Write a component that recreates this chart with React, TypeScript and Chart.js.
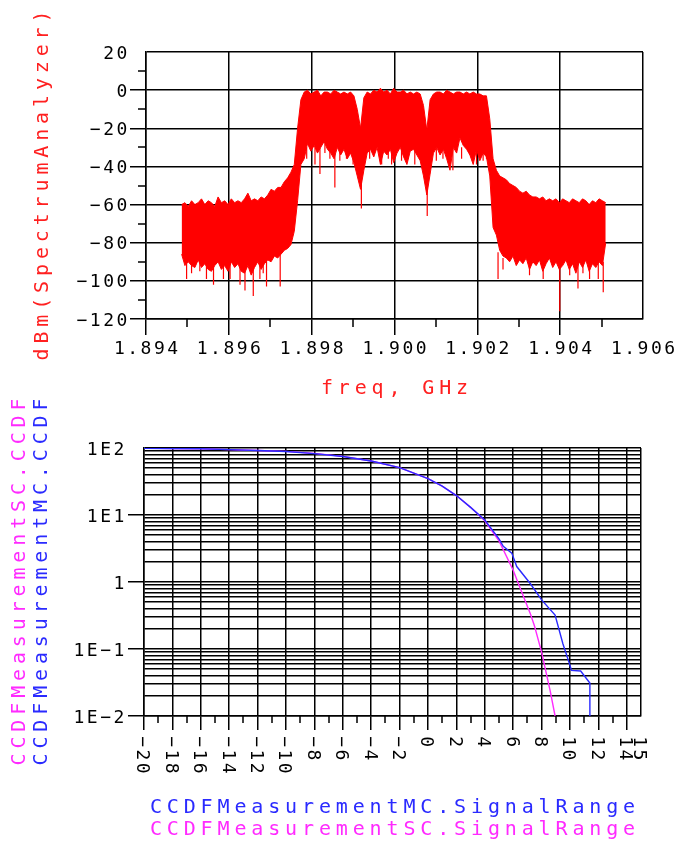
import React, { useEffect, useRef } from "react";
import { Chart, registerables } from "chart.js";

Chart.register(...registerables);

// ---------------- Spectrum (top chart) data ----------------
const FREQ_START = 1.89486; // GHz, first sample
const FREQ_STEP = 0.00008; // GHz between samples

// upper envelope of the spectrum trace, dBm
const SPEC_UPPER = [
  -60, -59, -61, -58, -60, -59, -57, -60, -58, -59,
  -61, -56, -59, -58, -60, -57, -59, -58, -59, -57,
  -54, -58, -57, -58, -56, -57, -55, -52, -53, -51,
  -51, -48, -46, -43, -39, -20, -5, -1, 0, -2,
  -1, 0, -3, -1, -1, -2, 0, -1, -2, -1,
  -2, -1, -3, -10, -20, -4, -1, -2, 0, -1,
  1, -1, 0, -2, 1, -1, -1, 0, -2, -1,
  -2, -1, -2, -8, -21, -5, -2, -1, -1, -2,
  0, -1, -2, -1, -1, -2, -1, -2, -1, -2,
  -2, -3, -3, -15, -36, -42, -45, -46, -47, -49,
  -50, -51, -53, -54, -53, -55, -56, -56, -57, -56,
  -58, -57, -58, -57, -59, -57, -58, -59, -57, -58,
  -59, -57, -58, -60, -58, -59, -57, -58, -59,
];

// lower envelope of the spectrum trace, dBm
const SPEC_LOWER = [
  -86, -92, -90, -92, -93, -89, -93, -91, -94, -95,
  -92, -90, -94, -92, -95, -90, -93, -91, -95, -96,
  -92, -97, -93, -90, -94, -91, -89, -90, -87, -88,
  -86, -84, -83, -81, -74, -58, -39, -36, -28, -32,
  -29, -33, -30, -27, -31, -33, -36, -30, -34, -31,
  -36, -33, -38, -45, -52, -42, -33, -31, -35, -30,
  -39, -32, -34, -31, -38, -33, -30, -35, -39, -32,
  -31, -34, -37, -45, -55, -44, -33, -30, -34, -31,
  -36, -42, -30, -33, -25, -29, -31, -34, -39, -31,
  -37, -33, -35, -45, -72, -76, -84, -87, -88, -90,
  -87, -92, -89, -91, -88, -94, -90, -92, -89, -95,
  -91, -88, -93, -90, -94, -92, -89, -94, -91, -96,
  -90, -93, -89, -95, -91, -93, -90, -92, -80,
];

// isolated thin spikes of the trace (start level -> tip level)
const SPIKE_FREQ = [
  1.89498, 1.8951, 1.8953, 1.89546, 1.89563, 1.89587, 1.89603, 1.89627, 1.89639, 1.89659,
  1.89675, 1.89683, 1.89691, 1.89724, 1.89788, 1.89808, 1.8982, 1.89832, 1.89844, 1.89856,
  1.89868, 1.89884, 1.899, 1.8992, 1.8994, 1.89969, 1.89985, 1.89993, 1.90017, 1.90033,
  1.90049, 1.90061, 1.90079, 1.90101, 1.90117, 1.90141, 1.90162, 1.90182, 1.90198, 1.90214,
  1.90222, 1.9025, 1.90262, 1.90326, 1.90359, 1.90399, 1.90423, 1.90443, 1.90455, 1.90471,
  1.90492, 1.90504,
];
const SPIKE_FROM = [
  -88, -88, -88, -90, -90, -90, -90, -90, -90, -92,
  -90, -90, -88, -85, -30, -30, -30, -28, -30, -33,
  -30, -30, -32, -45, -30, -30, -30, -30, -30, -30,
  -30, -30, -48, -30, -30, -30, -30, -28, -30, -30,
  -30, -85, -88, -88, -88, -88, -90, -90, -90, -90,
  -90, -90,
];
const SPIKE_TO = [
  -99, -96, -95, -99, -102, -99, -99, -102, -105, -108,
  -99, -96, -103, -103, -36, -39, -44, -33, -36, -51,
  -37, -36, -39, -62, -36, -39, -36, -39, -37, -36,
  -39, -34, -66, -37, -36, -42, -36, -34, -39, -37,
  -36, -99, -94, -97, -99, -116, -97, -104, -96, -99,
  -99, -106,
];

const FREQ_TICKS = [1.894, 1.896, 1.898, 1.9, 1.902, 1.904, 1.906];
const FREQ_TICK_LABELS = ["1.894", "1.896", "1.898", "1.900", "1.902", "1.904", "1.906"];
const FREQ_MINOR = [1.895, 1.897, 1.899, 1.901, 1.903, 1.905];
const DBM_TICKS = [-120, -100, -80, -60, -40, -20, 0, 20];
const DBM_TICK_LABELS = ["\u2212120", "\u2212100", "\u221280", "\u221260", "\u221240", "\u221220", "0", "20"];
const DBM_MINOR = [-110, -90, -70, -50, -30, -10, 10];

// ---------------- CCDF (bottom chart) data ----------------
const SC_RANGE = [-20, -18, -16, -14, -12, -10, -8, -6, -4, -2, 0, 1, 2, 3, 4, 5, 6, 6.5, 7.2, 7.5, 8, 8.6, 8.95];
const SC_CCDF = [100, 98.5, 97, 94.5, 92, 89, 83, 75, 64, 51, 35, 27, 19.5, 13, 8.2, 4.1, 1.5, 0.8, 0.34, 0.22, 0.09, 0.024, 0.01];

const MC_RANGE = [-20, -18.5, -16, -14, -12, -10, -8, -6, -4, -2, 0, 1, 2, 3, 4, 5, 5.3, 5.9, 6.25, 7.2, 8.0, 8.95, 9.5, 10.0, 10.1, 10.75, 11.4, 11.4];
const MC_CCDF = [99, 98.5, 97.5, 94.5, 92, 88.5, 82.5, 74.5, 64, 51, 35, 27, 19.5, 13, 8.4, 4.4, 3.4, 2.7, 1.7, 0.95, 0.54, 0.32, 0.12, 0.057, 0.048, 0.047, 0.031, 0.01];

const RANGE_TICKS = [-20, -18, -16, -14, -12, -10, -8, -6, -4, -2, 0, 2, 4, 6, 8, 10, 12, 14, 15];
const RANGE_TICK_LABELS = ["\u221220", "\u221218", "\u221216", "\u221214", "\u221212", "\u221210", "\u22128", "\u22126", "\u22124", "\u22122", "0", "2", "4", "6", "8", "10", "12", "14", "15"];
const RANGE_MINOR = [-19, -17, -15, -13, -11, -9, -7, -5, -3, -1, 1, 3, 5, 7, 9, 11, 13];
const CCDF_DECADES = [0.01, 0.1, 1, 10, 100];
const CCDF_DECADE_LABELS = ["1E\u22122", "1E\u22121", "1", "1E1", "1E2"];
const CCDF_SUBDIV = [1, 2, 3, 4, 5, 6, 7, 8, 9];

// ---------------- styling ----------------
const RED = "#ff0000";
const TITLE_RED = "#ff2020";
const BLUE = "#2a2aff";
const MAGENTA = "#ff2aff";
const GRID = "#000000";
const GRID_W = 1.5;
const MONO = '"DejaVu Sans Mono", "Liberation Mono", monospace';
const CAP = 0.729;
const TICK_PX = 18;
const TICK_CELL = 13.3;
const TITLE_PX = 20;
const TITLE_CELL = 16.9;

function drawMono(
  ctx: CanvasRenderingContext2D,
  text: string,
  x: number,
  y: number,
  size: number,
  cell: number,
  color: string,
  align: "left" | "center" | "right",
  rot: number
) {
  const chars = Array.from(text);
  const total = chars.length * cell;
  const start = align === "center" ? -total / 2 : align === "right" ? -total : 0;
  ctx.save();
  ctx.translate(x, y);
  if (rot) ctx.rotate((rot * Math.PI) / 180);
  ctx.font = `${size}px ${MONO}`;
  ctx.fillStyle = color;
  ctx.textAlign = "center";
  ctx.textBaseline = "alphabetic";
  const base = (size * CAP) / 2;
  chars.forEach((ch, k) => ctx.fillText(ch, start + (k + 0.5) * cell, base));
  ctx.restore();
}

const isSame = (a: number, b: number) => Math.abs(a - b) < 1e-9;
const isDecade = (v: number) => {
  const l = Math.log10(v);
  return Math.abs(l - Math.round(l)) < 1e-6;
};

export default function App() {
  const topRef = useRef<HTMLCanvasElement | null>(null);
  const botRef = useRef<HTMLCanvasElement | null>(null);

  useEffect(() => {
    if (!topRef.current || !botRef.current) return;

    // ---------- top chart ----------
    const upperPts = SPEC_UPPER.map((v, i) => ({ x: FREQ_START + FREQ_STEP * i, y: v }));
    const lowerPts = SPEC_LOWER.map((v, i) => ({ x: FREQ_START + FREQ_STEP * i, y: v }));
    const spikePts: { x: number; y: number | null }[] = [];
    SPIKE_FREQ.forEach((f, k) => {
      spikePts.push({ x: f, y: SPIKE_FROM[k] }, { x: f, y: SPIKE_TO[k] }, { x: f, y: null });
    });

    const topPlugin = {
      id: "topDecor",
      afterDraw(chart: any) {
        const ctx: CanvasRenderingContext2D = chart.ctx;
        const xs = chart.scales.x;
        const ys = chart.scales.y;
        const ca = chart.chartArea;
        ctx.save();
        ctx.strokeStyle = GRID;
        ctx.lineWidth = GRID_W;
        ctx.beginPath();
        FREQ_MINOR.forEach((v) => {
          const px = Math.round(xs.getPixelForValue(v));
          ctx.moveTo(px, ca.bottom);
          ctx.lineTo(px, ca.bottom + 8);
        });
        DBM_MINOR.forEach((v) => {
          const py = Math.round(ys.getPixelForValue(v));
          ctx.moveTo(ca.left, py);
          ctx.lineTo(ca.left - 8, py);
        });
        ctx.stroke();
        ctx.restore();

        FREQ_TICKS.forEach((v, k) =>
          drawMono(ctx, FREQ_TICK_LABELS[k], xs.getPixelForValue(v), 347, TICK_PX, TICK_CELL, "#000", "center", 0)
        );
        DBM_TICKS.forEach((v, k) =>
          drawMono(ctx, DBM_TICK_LABELS[k], 128.5, ys.getPixelForValue(v), TICK_PX, TICK_CELL, "#000", "right", 0)
        );
        drawMono(ctx, "freq, GHz", (ca.left + ca.right) / 2, 386.7, TITLE_PX, TITLE_CELL, TITLE_RED, "center", 0);
        drawMono(ctx, "dBm(SpectrumAnalyzer)", 41, (ca.top + ca.bottom) / 2, TITLE_PX, TITLE_CELL, TITLE_RED, "center", -90);
      },
    };

    const topChart = new Chart(topRef.current, {
      type: "line",
      data: {
        datasets: [
          { data: upperPts, borderColor: RED, borderWidth: 1, pointRadius: 0, fill: false, tension: 0 },
          { data: lowerPts, borderColor: RED, borderWidth: 1, pointRadius: 0, fill: "-1", backgroundColor: RED, tension: 0 },
          { data: spikePts as any, borderColor: RED, borderWidth: 1.2, pointRadius: 0, fill: false, tension: 0 },
        ],
      },
      options: {
        animation: false,
        responsive: false,
        maintainAspectRatio: false,
        events: [],
        layout: { padding: { top: 52, right: 34, left: 0, bottom: 0 } },
        plugins: { legend: { display: false }, tooltip: { enabled: false }, title: { display: false } },
        scales: {
          x: {
            type: "linear",
            min: 1.894,
            max: 1.906,
            afterBuildTicks: (s: any) => {
              s.ticks = FREQ_TICKS.map((v) => ({ value: v }));
            },
            afterFit: (s: any) => {
              s.height = 81;
            },
            ticks: { display: false },
            grid: {
              color: GRID,
              lineWidth: GRID_W,
              tickLength: 16,
              tickWidth: GRID_W,
              tickColor: (c: any) => (c.tick && isSame(c.tick.value, 1.906) ? "rgba(0,0,0,0)" : GRID),
            },
            border: { color: GRID, width: GRID_W },
          },
          y: {
            type: "linear",
            min: -120,
            max: 20,
            afterBuildTicks: (s: any) => {
              s.ticks = DBM_TICKS.map((v) => ({ value: v }));
            },
            afterFit: (s: any) => {
              s.width = 146;
            },
            ticks: { display: false },
            grid: {
              color: GRID,
              lineWidth: GRID_W,
              tickLength: 16,
              tickWidth: GRID_W,
              tickColor: (c: any) => (c.tick && isSame(c.tick.value, 20) ? "rgba(0,0,0,0)" : GRID),
            },
            border: { color: GRID, width: GRID_W },
          },
        },
      } as any,
      plugins: [topPlugin],
    });

    // ---------- bottom chart ----------
    const scPts = SC_RANGE.map((v, i) => ({ x: v, y: SC_CCDF[i] }));
    const mcPts = MC_RANGE.map((v, i) => ({ x: v, y: MC_CCDF[i] }));
    const logTicks: number[] = [];
    CCDF_DECADES.forEach((d, k) => {
      if (k === CCDF_DECADES.length - 1) {
        logTicks.push(d);
      } else {
        CCDF_SUBDIV.forEach((m) => logTicks.push(+(d * m).toPrecision(6)));
      }
    });

    const botPlugin = {
      id: "botDecor",
      afterDraw(chart: any) {
        const ctx: CanvasRenderingContext2D = chart.ctx;
        const xs = chart.scales.x;
        const ys = chart.scales.y;
        const ca = chart.chartArea;
        ctx.save();
        ctx.strokeStyle = GRID;
        ctx.lineWidth = GRID_W;
        ctx.beginPath();
        RANGE_MINOR.forEach((v) => {
          const px = Math.round(xs.getPixelForValue(v));
          ctx.moveTo(px, ca.bottom);
          ctx.lineTo(px, ca.bottom + 7);
        });
        ctx.stroke();
        ctx.restore();

        RANGE_TICKS.forEach((v, k) =>
          drawMono(ctx, RANGE_TICK_LABELS[k], xs.getPixelForValue(v), ca.bottom + 19, TICK_PX, TICK_CELL, "#000", "left", 90)
        );
        CCDF_DECADES.forEach((v, k) =>
          drawMono(ctx, CCDF_DECADE_LABELS[k], 125.5, ys.getPixelForValue(v), TICK_PX, TICK_CELL, "#000", "right", 0)
        );
        const cx = (ca.left + ca.right) / 2;
        const cy = (ca.top + ca.bottom) / 2;
        drawMono(ctx, "CCDFMeasurementMC.SignalRange", cx, 405.8, TITLE_PX, TITLE_CELL, BLUE, "center", 0);
        drawMono(ctx, "CCDFMeasurementSC.SignalRange", cx, 427.6, TITLE_PX, TITLE_CELL, MAGENTA, "center", 0);
        drawMono(ctx, "CCDFMeasurementSC.CCDF", 17.5, cy, TITLE_PX, TITLE_CELL, MAGENTA, "center", -90);
        drawMono(ctx, "CCDFMeasurementMC.CCDF", 40, cy, TITLE_PX, TITLE_CELL, BLUE, "center", -90);
      },
    };

    const botChart = new Chart(botRef.current, {
      type: "line",
      data: {
        datasets: [
          { data: mcPts, borderColor: BLUE, borderWidth: 1.4, pointRadius: 0, fill: false, tension: 0 },
          { data: scPts, borderColor: MAGENTA, borderWidth: 1.4, pointRadius: 0, fill: false, tension: 0 },
        ],
      },
      options: {
        animation: false,
        responsive: false,
        maintainAspectRatio: false,
        events: [],
        layout: { padding: { top: 48, right: 36, left: 0, bottom: 0 } },
        plugins: { legend: { display: false }, tooltip: { enabled: false }, title: { display: false } },
        scales: {
          x: {
            type: "linear",
            min: -20,
            max: 15,
            afterBuildTicks: (s: any) => {
              s.ticks = RANGE_TICKS.map((v) => ({ value: v }));
            },
            afterFit: (s: any) => {
              s.height = 125;
            },
            ticks: { display: false },
            grid: {
              color: GRID,
              lineWidth: GRID_W,
              tickLength: 14,
              tickWidth: GRID_W,
              tickColor: (c: any) => (c.tick && isSame(c.tick.value, 15) ? "rgba(0,0,0,0)" : GRID),
            },
            border: { color: GRID, width: GRID_W },
          },
          y: {
            type: "logarithmic",
            min: 0.01,
            max: 100,
            afterBuildTicks: (s: any) => {
              s.ticks = logTicks.map((v) => ({ value: v }));
            },
            afterFit: (s: any) => {
              s.width = 144;
            },
            ticks: { display: false },
            grid: {
              color: GRID,
              lineWidth: GRID_W,
              tickLength: 16,
              tickWidth: GRID_W,
              tickColor: (c: any) =>
                c.tick && isDecade(c.tick.value) && !isSame(c.tick.value, 100) ? GRID : "rgba(0,0,0,0)",
            },
            border: { color: GRID, width: GRID_W },
          },
        },
      } as any,
      plugins: [botPlugin],
    });

    return () => {
      topChart.destroy();
      botChart.destroy();
    };
  }, []);

  return (
    <div style={{ position: "absolute", left: 0, top: 0, width: 677, height: 841, background: "#fff" }}>
      <canvas ref={topRef} width={677} height={400} style={{ position: "absolute", left: 0, top: 0 }} />
      <canvas ref={botRef} width={677} height={441} style={{ position: "absolute", left: 0, top: 400 }} />
    </div>
  );
}
